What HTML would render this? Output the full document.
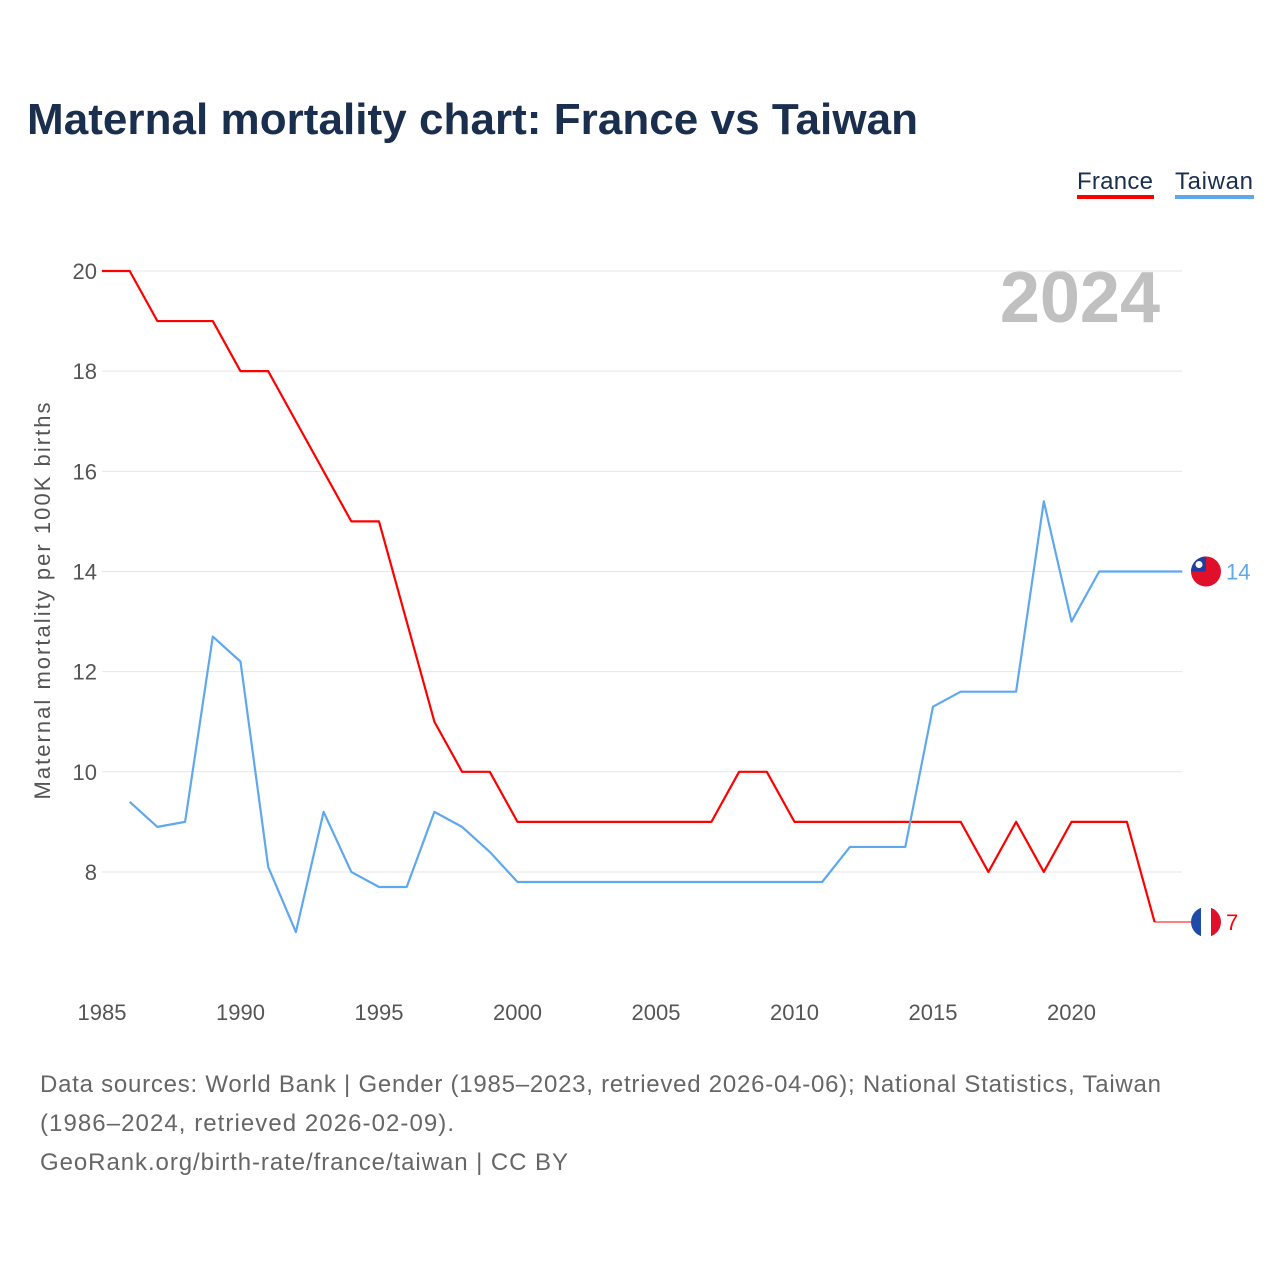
<!DOCTYPE html>
<html><head><meta charset="utf-8">
<style>
body{margin:0;background:#fff;font-family:"Liberation Sans",sans-serif;}
#wrap{position:relative;width:1280px;height:1280px;overflow:hidden;}
</style></head>
<body>
<div id="wrap">
<svg id="chart" width="1280" height="1280">
<text x="27" y="134" font-size="44" font-weight="bold" fill="#1a2e4e" textLength="891" font-family="Liberation Sans, sans-serif">Maternal mortality chart: France vs Taiwan</text>
<g>
<text x="1077" y="189" font-size="24" fill="#1a2e4e" textLength="76">France</text>
<rect x="1077" y="195" width="77" height="4" fill="#ff0000"/>
</g>
<g>
<text x="1175" y="189" font-size="24" fill="#1a2e4e" textLength="78">Taiwan</text>
<rect x="1175" y="195" width="79" height="4" fill="#5fa8ee"/>
</g>
<text x="1160" y="322" text-anchor="end" font-size="72" font-weight="bold" fill="#c0c0c0">2024</text>
<text transform="translate(50,601) rotate(-90)" text-anchor="middle" font-size="22" fill="#555" textLength="397">Maternal mortality per 100K births</text>
<g id="grid"></g><g id="xt"></g><g id="lines"></g>
<text x="40" y="1092" font-size="24" fill="#666" textLength="1121">Data sources: World Bank | Gender (1985–2023, retrieved 2026-04-06); National Statistics, Taiwan</text>
<text x="40" y="1131" font-size="24" fill="#666" textLength="414">(1986–2024, retrieved 2026-02-09).</text>
<text x="40" y="1170" font-size="24" fill="#666" textLength="528">GeoRank.org/birth-rate/france/taiwan | CC BY</text>
</svg>
</div>
<script>
const yTicks=[8,10,12,14,16,18,20];
const xTicks=[1985,1990,1995,2000,2005,2010,2015,2020];
const franceYears=[1985,1986,1987,1988,1989,1990,1991,1992,1993,1994,1995,1996,1997,1998,1999,2000,2001,2002,2003,2004,2005,2006,2007,2008,2009,2010,2011,2012,2013,2014,2015,2016,2017,2018,2019,2020,2021,2022,2023];
const franceValues=[20,20,19,19,19,18,18,17,16,15,15,13,11,10,10,9,9,9,9,9,9,9,9,10,10,9,9,9,9,9,9,9,8,9,8,9,9,9,7];
const taiwanYears=[1986,1987,1988,1989,1990,1991,1992,1993,1994,1995,1996,1997,1998,1999,2000,2001,2002,2003,2004,2005,2006,2007,2008,2009,2010,2011,2012,2013,2014,2015,2016,2017,2018,2019,2020,2021,2022,2023,2024];
const taiwanValues=[9.4,8.9,9.0,12.7,12.2,8.1,6.8,9.2,8.0,7.7,7.7,9.2,8.9,8.4,7.8,7.8,7.8,7.8,7.8,7.8,7.8,7.8,7.8,7.8,7.8,7.8,8.5,8.5,8.5,11.3,11.6,11.6,11.6,15.4,13.0,14,14,14,14];
const X=y=>102+(y-1985)*27.7;
const Y=v=>271+(20-v)*50.08;
const NS="http://www.w3.org/2000/svg";
function mk(tag,attrs,parent){const e=document.createElementNS(NS,tag);for(const k in attrs)e.setAttribute(k,attrs[k]);parent.appendChild(e);return e;}
const grid=document.getElementById('grid');
yTicks.forEach(v=>{
 const l=mk('line',{x1:102,x2:1182,y1:Y(v),y2:Y(v),stroke:'#e6e6e6','stroke-width':1},grid);
 
 
 const t=mk('text',{x:97,y:Y(v)+8,'text-anchor':'end','font-size':22,fill:'#555'},grid);
 t.textContent=v;
 
 
});
const xt=document.getElementById('xt');
xTicks.forEach(v=>{
 const t=mk('text',{x:X(v),y:1020,'text-anchor':'middle','font-size':22,fill:'#555'},xt);
 t.textContent=v;
 
 
});
const lines=document.getElementById('lines');
function pts(ys,vs){return ys.map((y,i)=>X(y)+','+Y(vs[i])).join(' ');}
const fl=mk('polyline',{points:pts(franceYears,franceValues),fill:'none',stroke:'#ff0000','stroke-width':2.2,'stroke-linejoin':'round'},lines);


const lastF=franceValues[franceValues.length-1];
const fe=mk('line',{x1:X(2023),x2:X(2024)+10,y1:Y(lastF),y2:Y(lastF),stroke:'#ff0000','stroke-width':1},lines);


const tl=mk('polyline',{points:pts(taiwanYears,taiwanValues),fill:'none',stroke:'#5fa8ee','stroke-width':2.2,'stroke-linejoin':'round'},lines);


const fy=Y(lastF), fx=1206;
const g1=mk('g',{},lines);


const cp=mk('clipPath',{id:'cf'},g1);
mk('circle',{cx:fx,cy:fy,r:15},cp);
mk('rect',{x:fx-15,y:fy-15,width:10,height:30,fill:'#1f4aa8','clip-path':'url(#cf)'},g1);
mk('rect',{x:fx-5,y:fy-15,width:10,height:30,fill:'#fff','clip-path':'url(#cf)'},g1);
mk('rect',{x:fx+5,y:fy-15,width:10,height:30,fill:'#e0102a','clip-path':'url(#cf)'},g1);
const ft=mk('text',{x:1226,y:fy+8,'font-size':22,fill:'#ff0000'},lines);
ft.textContent=lastF;


const lastT=taiwanValues[taiwanValues.length-1];
const ty=Y(lastT);
const g2=mk('g',{},lines);


mk('circle',{cx:fx,cy:ty,r:15,fill:'#e0102a'},g2);
mk('path',{d:`M${fx-15},${ty} A15,15 0 0 1 ${fx},${ty-15} L${fx},${ty} Z`,fill:'#1f3fa0'},g2);
mk('circle',{cx:fx-7,cy:ty-7,r:3.5,fill:'#fff'},g2);
const tt=mk('text',{x:1226,y:ty+8,'font-size':22,fill:'#5fa8ee'},lines);
tt.textContent=lastT;


</script>
</body></html>
